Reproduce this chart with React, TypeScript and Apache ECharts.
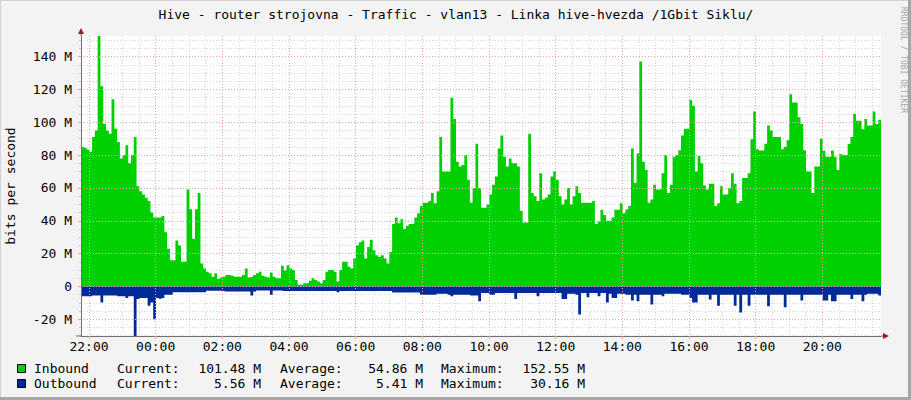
import { useEffect, useRef } from 'react';
import * as echarts from 'echarts';

// ---- data (Mbit/s, 5-minute samples starting ~21:45) ----
const START_HOUR = 21.76;
const STEP_HOURS = 5 / 60;

const inbound = [
  85, 84.5, 83.5, 82, 91, 95, 152.5, 122, 99, 95,
  93, 114, 96, 88, 78, 80, 86, 75, 80, 91,
  61, 58, 56, 54, 52, 45, 42, 42, 42, 43,
  33, 23, 16, 16, 28, 25, 15, 15, 59, 47,
  29, 47, 57, 14, 11, 9, 8, 6, 8, 4.5,
  5.5, 6, 7, 7, 6.5, 6, 6, 6, 7, 11,
  5.5, 6, 7, 8, 9, 6.5, 6, 5.5, 8.5, 6,
  5, 5, 12.6, 9.7, 13, 11, 10, 4, 1, 1,
  2, 2, 3.5, 5, 4, 3, 2, 4, 9, 10,
  10, 9, 3, 10, 15, 15, 12, 11, 17, 25,
  27, 28, 17, 24, 28.5, 22, 19, 18, 19, 17,
  14, 21, 38, 42, 38.5, 41, 35, 37, 38, 38,
  42, 44.6, 49, 51, 51, 52, 57, 50.7, 58, 91,
  70, 70, 70, 115, 102, 76, 73, 74, 80, 65,
  51, 60, 87, 60, 48, 48, 50, 56, 62, 67,
  84, 92, 79, 73, 78, 75, 75, 73, 46, 39,
  39, 93, 57, 55, 52, 69, 53, 54, 56, 67,
  70, 65, 55, 50, 53, 60, 50, 55, 61, 57,
  51, 51, 51, 51, 52, 38, 39.5, 46.7, 43.6, 40,
  40, 42, 46.7, 46.7, 50.7, 44.6, 47, 49, 84, 63,
  81, 137, 76, 71, 51, 53, 62, 59, 59, 69,
  80, 57, 62, 79, 80, 83, 92, 96, 96, 113.6,
  110, 70, 79.5, 75, 61.5, 59, 62.5, 62.5, 49, 50.7,
  61, 56, 56, 60, 69, 62.5, 50.7, 52, 66, 66,
  69, 89.7, 106.5, 83.6, 82.8, 82.8, 87, 98, 95, 91,
  91, 91, 83.6, 85, 89, 117, 112, 112, 103, 99,
  83, 70, 70, 57, 73, 73, 90, 82.6, 79, 79,
  82.8, 79, 71, 80.7, 80, 80, 86.8, 91, 105, 101,
  101, 95.8, 102, 98, 98, 106.5, 99, 101.48,
];

const outbound = [
  6, 6, 6, 6, 5.5, 5.5, 5.5, 9.7, 5.5, 5.5,
  5.5, 5.5, 5.5, 6, 6, 6, 7, 6, 6, 30.16,
  7.7, 7, 7, 7, 11.8, 9.7, 20, 7, 7.5, 7,
  5, 5, 5, 3.5, 3.5, 3.5, 3.5, 3.5, 3.5, 3.5,
  3.5, 3.5, 3.5, 3.5, 3.5, 2.6, 2.6, 2.6, 2.6, 2.6,
  2.6, 3, 3, 3, 3, 3, 3, 3, 3, 3,
  3, 5.5, 3, 2.4, 2.4, 2.4, 2.4, 2.4, 5, 2.4,
  2.4, 2.4, 2.8, 2.8, 2.8, 2.8, 2.8, 2.8, 2.8, 2.8,
  2.8, 2.8, 2.8, 2.8, 2.8, 2.8, 2.8, 2.8, 2.8, 2.8,
  2.8, 2.8, 3.5, 2.8, 2.8, 2.8, 2.8, 2.8, 2.8, 2.8,
  2.8, 2.8, 2.8, 2.8, 2.8, 2.8, 2.8, 2.8, 2.8, 2.8,
  2.8, 2.8, 3.6, 3.6, 3.6, 3.6, 3.6, 3.6, 3.6, 3.6,
  3.6, 3.6, 5, 5, 5, 5, 5, 5, 4.5, 4.5,
  4.5, 4.5, 5, 6, 5, 5, 5, 5, 5, 5,
  5.5, 5.5, 5.5, 9, 4, 4, 4, 5, 5, 4,
  4, 4, 4, 4, 4, 4, 7.7, 4, 4, 4,
  4, 4, 4, 4, 6, 4, 4, 4, 4, 4,
  4, 4, 4, 7.7, 7.7, 4.5, 4.5, 4.5, 5, 17,
  4, 4, 6.5, 4, 4, 4, 6, 4, 4, 9.7,
  4.5, 7, 7, 4.5, 4.5, 4.5, 5, 5, 8.5, 5,
  9, 5, 5, 5, 5, 11, 5, 5, 5, 6,
  4.5, 4.5, 4.5, 4.5, 4.5, 4.5, 5, 5, 5, 7,
  9.7, 9.7, 5, 5, 5, 5, 8, 5, 5, 11.8,
  5, 5, 5, 5, 5, 11.8, 5, 15.8, 5, 5,
  11.8, 5, 5, 5, 5, 5, 5, 12, 5, 5,
  5, 5, 5, 12.6, 5, 5, 5, 5, 5, 8.5,
  5, 5, 5, 5, 5, 5, 5, 8.5, 8.5, 5,
  9, 9, 5, 5, 5, 5, 5, 7.7, 5, 5,
  5, 9, 5, 4.5, 4.5, 4.5, 4.5, 5.56,
];

const xMajorTicks = [22, 24, 26, 28, 30, 32, 34, 36, 38, 40, 42, 44];
const xTickLabels = ['22:00', '00:00', '02:00', '04:00', '06:00', '08:00', '10:00', '12:00', '14:00', '16:00', '18:00', '20:00'];
const yMajorTicks = [-20, 0, 20, 40, 60, 80, 100, 120, 140];
const yTickLabels = ['-20 M', '0', '20 M', '40 M', '60 M', '80 M', '100 M', '120 M', '140 M'];
const Y_MIN = -30.16;
const Y_MAX = 152.55;

const legendNames = ['Inbound', 'Outbound'];
const legendColors = ['#00CF00', '#002A97'];
const legendCurrent = ['101.48 M', '5.56 M'];
const legendAverage = ['54.86 M', '5.41 M'];
const legendMaximum = ['152.55 M', '30.16 M'];

const TITLE = 'Hive - router strojovna - Traffic - vlan13 - Linka hive-hvezda /1Gbit Siklu/';

const FONT = '"DejaVu Sans Mono", monospace';

export default function App() {
  const ref = useRef<HTMLDivElement>(null);

  useEffect(() => {
    if (!ref.current) return;
    const chart = echarts.init(ref.current, undefined, { renderer: 'svg' });

    const END_HOUR = START_HOUR + inbound.length * STEP_HOURS;
    const toSeries = (arr: number[], sign: number) => {
      const d = arr.map((v, i) => [START_HOUR + i * STEP_HOURS, sign * v]);
      d.push([END_HOUR, sign * arr[arr.length - 1]]);
      return d;
    };

    const xMinor: number[] = [];
    for (let h = 22; h < END_HOUR; h += 0.5) if (h % 2 !== 0) xMinor.push(h);
    const yMinor: number[] = [];
    for (let v = -30; v <= 150; v += 5) if (v % 20 !== 0 && v > Y_MIN) yMinor.push(v);

    const minorLine = { show: true, lineStyle: { color: '#D4D4D4', width: 1, type: [1, 2] as any } };
    const majorLine = { show: true, lineStyle: { color: '#F2A0A0', width: 1, type: [1, 2] as any } };

    const legendGraphics: any[] = [];
    legendNames.forEach((name, i) => {
      const y = 368.5 + i * 15;
      legendGraphics.push(
        { type: 'rect', shape: { x: 17.5, y: y - 4, width: 8, height: 8 }, style: { fill: legendColors[i], stroke: '#000', lineWidth: 1 } },
        { type: 'text', x: 34, y, style: { text: name, font: `13px ${FONT}`, fill: '#000', align: 'left', verticalAlign: 'middle' } },
        { type: 'text', x: 117, y, style: { text: 'Current:', font: `13px ${FONT}`, fill: '#000', align: 'left', verticalAlign: 'middle' } },
        { type: 'text', x: 261, y, style: { text: legendCurrent[i], font: `13px ${FONT}`, fill: '#000', align: 'right', verticalAlign: 'middle' } },
        { type: 'text', x: 280, y, style: { text: 'Average:', font: `13px ${FONT}`, fill: '#000', align: 'left', verticalAlign: 'middle' } },
        { type: 'text', x: 423, y, style: { text: legendAverage[i], font: `13px ${FONT}`, fill: '#000', align: 'right', verticalAlign: 'middle' } },
        { type: 'text', x: 441, y, style: { text: 'Maximum:', font: `13px ${FONT}`, fill: '#000', align: 'left', verticalAlign: 'middle' } },
        { type: 'text', x: 585, y, style: { text: legendMaximum[i], font: `13px ${FONT}`, fill: '#000', align: 'right', verticalAlign: 'middle' } },
      );
    });

    const option: any = {
      animation: false,
      backgroundColor: '#F3F3F3',
      grid: { left: 81, top: 36, width: 800, height: 300, show: true, backgroundColor: '#FFFFFF', borderWidth: 0, containLabel: false },
      xAxis: [
        {
          type: 'value', min: START_HOUR, max: END_HOUR, position: 'bottom',
          axisLine: { show: true, onZero: false, lineStyle: { color: '#707070', width: 1 } },
          axisTick: { show: true, length: 3, customValues: xMajorTicks, lineStyle: { color: '#F2A0A0' } },
          axisLabel: {
            show: true, customValues: xMajorTicks, margin: 4, color: '#000', fontFamily: FONT, fontSize: 13,
            formatter: (v: number) => xTickLabels[xMajorTicks.indexOf(Math.round(v))] ?? '',
          },
          splitLine: majorLine,
          z: 3,
        },
        {
          type: 'value', min: START_HOUR, max: END_HOUR, position: 'bottom', offset: 0,
          axisLine: { show: false },
          axisTick: { show: true, length: 2, customValues: xMinor, lineStyle: { color: '#C8C8C8' } },
          axisLabel: { show: false },
          splitLine: minorLine,
        },
      ],
      yAxis: [
        {
          type: 'value', min: Y_MIN, max: Y_MAX, position: 'left',
          axisLine: { show: true, onZero: false, lineStyle: { color: '#707070', width: 1 } },
          axisTick: { show: true, length: 3, customValues: yMajorTicks, lineStyle: { color: '#F2A0A0' } },
          axisLabel: {
            show: true, customValues: yMajorTicks, margin: 9, color: '#000', fontFamily: FONT, fontSize: 13,
            formatter: (v: number) => yTickLabels[yMajorTicks.indexOf(Math.round(v))] ?? '',
          },
          splitLine: majorLine,
          z: 3,
        },
        {
          type: 'value', min: Y_MIN, max: Y_MAX, position: 'left', offset: 0,
          axisLine: { show: false },
          axisTick: { show: true, length: 2, customValues: yMinor, lineStyle: { color: '#C8C8C8' } },
          axisLabel: { show: false },
          splitLine: minorLine,
        },
      ],
      series: [
        {
          name: 'Inbound', type: 'line', xAxisIndex: 0, yAxisIndex: 0, step: 'end', symbol: 'none',
          data: toSeries(inbound, 1), lineStyle: { width: 0, opacity: 0 },
          areaStyle: { color: legendColors[0], opacity: 1, origin: 0 }, z: 2,
        },
        {
          name: 'Outbound', type: 'line', xAxisIndex: 0, yAxisIndex: 0, step: 'end', symbol: 'none',
          data: toSeries(outbound, -1), lineStyle: { width: 0, opacity: 0 },
          areaStyle: { color: legendColors[1], opacity: 1, origin: 0 }, z: 2,
        },
      ],
      graphic: [
        // frame shading
        { type: 'line', shape: { x1: 0, y1: 0.5, x2: 911, y2: 0.5 }, style: { stroke: '#D2D2D2', lineWidth: 1 } },
        { type: 'line', shape: { x1: 0.5, y1: 0, x2: 0.5, y2: 400 }, style: { stroke: '#D2D2D2', lineWidth: 1 } },
        { type: 'line', shape: { x1: 909.5, y1: 0, x2: 909.5, y2: 400 }, style: { stroke: '#A6A6A6', lineWidth: 3 } },
        { type: 'line', shape: { x1: 0, y1: 398.5, x2: 911, y2: 398.5 }, style: { stroke: '#A6A6A6', lineWidth: 3 } },
        // axis extensions and arrows
        { type: 'line', z: 10, shape: { x1: 81, y1: 36, x2: 81, y2: 31 }, style: { stroke: '#707070', lineWidth: 1 } },
        { type: 'line', z: 10, shape: { x1: 76, y1: 336, x2: 81, y2: 336 }, style: { stroke: '#707070', lineWidth: 1 } },
        { type: 'line', z: 10, shape: { x1: 881, y1: 336, x2: 885, y2: 336 }, style: { stroke: '#707070', lineWidth: 1 } },
        { type: 'polygon', z: 10, shape: { points: [[78, 34], [84, 34], [81, 28]] }, style: { fill: '#9E1B1B' } },
        { type: 'polygon', z: 10, shape: { points: [[883, 333], [883, 339], [889, 336]] }, style: { fill: '#9E1B1B' } },
        // title
        { type: 'text', x: 456, y: 14, style: { text: TITLE, font: `13px ${FONT}`, fill: '#000', align: 'center', verticalAlign: 'middle' } },
        // vertical axis title
        { type: 'text', x: 10, y: 186, rotation: Math.PI / 2, style: { text: 'bits per second', font: `13px ${FONT}`, fill: '#000', align: 'center', verticalAlign: 'middle' } },
        // watermark
        { type: 'text', x: 903, y: 60, rotation: -Math.PI / 2, style: { text: 'RRDTOOL / TOBI OETIKER', font: `8px ${FONT}`, fill: '#A8A8A8', align: 'center', verticalAlign: 'middle' } },
        ...legendGraphics,
      ],
    };

    chart.setOption(option);
    return () => chart.dispose();
  }, []);

  return <div ref={ref} style={{ position: 'absolute', left: 0, top: 0, width: 911, height: 400 }} />;
}
